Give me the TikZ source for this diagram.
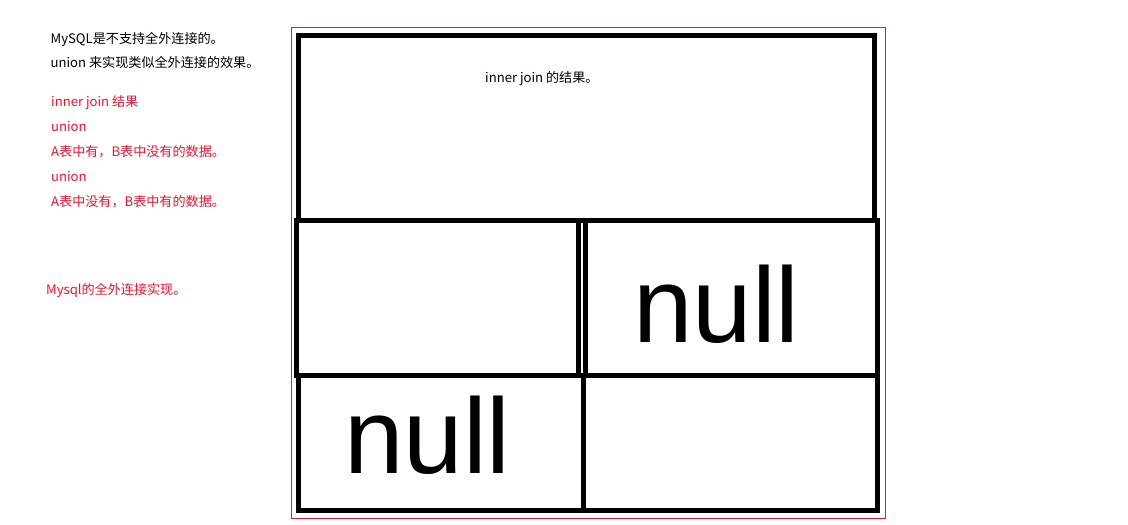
\documentclass[tikz,border=0pt]{standalone}
\usepackage{fontspec}
\setmainfont{Liberation Sans}
\newfontfamily\cjk{Noto Sans CJK SC}
\definecolor{notered}{RGB}{240,20,45}
\begin{document}
\begin{tikzpicture}[x=1pt,y=-1pt,
  cell/.style={draw=black,line width=5pt,rectangle,inner sep=0pt,fill=none},
  txt/.style={anchor=base west,inner sep=0pt,font=\cjk\fontsize{13.1}{15}\selectfont},
  rtxt/.style={txt,text=notered},
  big/.style={anchor=base west,inner sep=0pt,font=\fontsize{107}{110}\selectfont}]
\useasboundingbox (0,0) rectangle (1128,525);
\fill[white] (0,0) rectangle (1128,525);
% left notes
\node[txt] (t1) at (50.5,43) {MySQL是不支持全外连接的。};
\node[txt] (t2) at (50.5,67.5) {union 来实现类似全外连接的效果。};
\node[rtxt] (r1) at (51,106.5) {inner join 结果};
\node[rtxt] (r2) at (51,131.5) {union};
\node[rtxt] (r3) at (51,156.5) {A表中有，B表中没有的数据。};
\node[rtxt] (r4) at (51,181.5) {union};
\node[rtxt] (r5) at (51,206) {A表中没有，B表中有的数据。};
\node[rtxt] (r6) at (46,294) {Mysql的全外连接实现。};
% frame
\node[draw=notered,line width=1pt,rectangle,inner sep=0pt,minimum width=593.5pt,minimum height=491pt] (frame) at (588.25,273) {};
% cells
\node[cell,minimum width=576pt,minimum height=185pt] (top) at (586.5,128) {};
\node[cell,minimum width=282pt,minimum height=155pt] (ml) at (437,298) {};
\node[cell,minimum width=292pt,minimum height=155pt] (mr) at (731,298) {};
\node[cell,minimum width=285.5pt,minimum height=134.5pt] (bl) at (440.75,442.75) {};
\node[cell,minimum width=293.5pt,minimum height=134.5pt] (br) at (730.25,442.75) {};
% texts in cells
\node[txt] (inner) at (485,82) {inner join 的结果。};
\node[big] (null1) at (633,342) {null};
\node[big] (null2) at (344,473) {null};
\end{tikzpicture}
\end{document}
